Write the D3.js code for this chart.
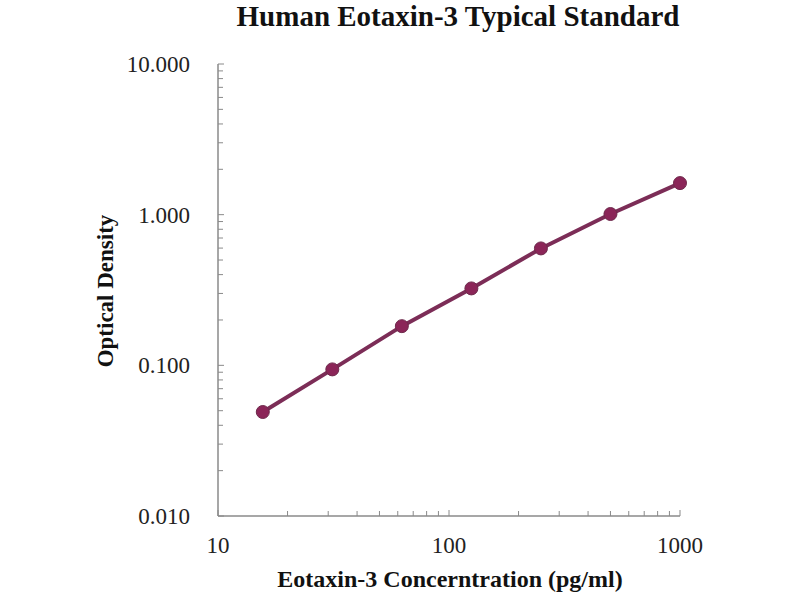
<!DOCTYPE html>
<html><head><meta charset="utf-8">
<script src="https://cdn.jsdelivr.net/npm/d3@7"></script>
<style>body{margin:0;background:#fff}</style>
</head><body>
<svg id="c" width="800" height="600"></svg>
<script>
const concentrations = [15.625, 31.25, 62.5, 125, 250, 500, 1000];
const opticalDensity = [0.049, 0.094, 0.182, 0.324, 0.597, 1.01, 1.62];
const xTickValues = [10, 100, 1000];
const yTickValues = [0.01, 0.1, 1, 10];
const titleText = "Human Eotaxin-3 Typical Standard";
const xTitle = "Eotaxin-3 Concerntration (pg/ml)";
const yTitle = "Optical Density";

const svg = d3.select("#c");
const x = d3.scaleLog().domain([10, 1000]).range([218, 680]);
const y = d3.scaleLog().domain([0.01, 10]).range([516, 64]);
const axisColor = "#8a8a8a";
const font = "'Liberation Serif', 'Times New Roman', serif";

const minorX = [], minorY = [];
for (let d = 10; d < 1000; d *= 10) for (let k = 2; k <= 9; k++) minorX.push(d * k);
for (let d = 0.01; d < 10; d *= 10) for (let k = 2; k <= 9; k++) minorY.push(+(d * k).toPrecision(3));

const g = svg.append("g");
g.selectAll(".mx").data(minorX).join("line")
  .attr("x1", d => x(d)).attr("x2", d => x(d))
  .attr("y1", y(0.01)).attr("y2", y(0.01) - 5)
  .attr("stroke", axisColor).attr("stroke-width", 1);
g.selectAll(".Mx").data(xTickValues).join("line")
  .attr("x1", d => x(d)).attr("x2", d => x(d))
  .attr("y1", y(0.01)).attr("y2", y(0.01) - 6)
  .attr("stroke", axisColor).attr("stroke-width", 1);
g.selectAll(".my").data(minorY).join("line")
  .attr("x1", x(10)).attr("x2", x(10) + 5)
  .attr("y1", d => y(d)).attr("y2", d => y(d))
  .attr("stroke", axisColor).attr("stroke-width", 1);
g.selectAll(".My").data(yTickValues).join("line")
  .attr("x1", x(10)).attr("x2", x(10) + 6)
  .attr("y1", d => y(d)).attr("y2", d => y(d))
  .attr("stroke", axisColor).attr("stroke-width", 1);

g.append("line").attr("x1", x(10)).attr("x2", x(1000)).attr("y1", y(0.01)).attr("y2", y(0.01))
  .attr("stroke", axisColor).attr("stroke-width", 1.5);
g.append("line").attr("x1", x(10)).attr("x2", x(10)).attr("y1", y(0.01)).attr("y2", y(10))
  .attr("stroke", axisColor).attr("stroke-width", 1.5);

g.selectAll(".xl").data(xTickValues).join("text")
  .attr("x", d => x(d)).attr("y", y(0.01) + 37)
  .attr("text-anchor", "middle").attr("font-family", font).attr("font-size", 23)
  .attr("fill", "#222").text(d => d);
g.selectAll(".yl").data(yTickValues).join("text")
  .attr("x", x(10) - 28).attr("y", d => y(d) + 8)
  .attr("text-anchor", "end").attr("font-family", font).attr("font-size", 23)
  .attr("fill", "#222").text(d => d3.format(".3f")(d));

const pts = concentrations.map((c, i) => [c, opticalDensity[i]]);
svg.append("path").datum(pts)
  .attr("d", d3.line().x(d => x(d[0])).y(d => y(d[1])))
  .attr("fill", "none").attr("stroke", "#7c2d57").attr("stroke-width", 4);
svg.selectAll(".pt").data(pts).join("circle")
  .attr("cx", d => x(d[0])).attr("cy", d => y(d[1])).attr("r", 6.5)
  .attr("fill", "#8b2558").attr("stroke", "#6e2a4c").attr("stroke-width", 1);

svg.append("text").attr("x", 458).attr("y", 26).attr("text-anchor", "middle")
  .attr("font-family", font).attr("font-weight", "bold").attr("font-size", 29)
  .attr("fill", "#111").text(titleText);
svg.append("text").attr("x", 450).attr("y", 587).attr("text-anchor", "middle")
  .attr("font-family", font).attr("font-weight", "bold").attr("font-size", 24)
  .attr("fill", "#111").text(xTitle);
svg.append("text").attr("transform", "translate(113,291) rotate(-90)").attr("text-anchor", "middle")
  .attr("font-family", font).attr("font-weight", "bold").attr("font-size", 23)
  .attr("fill", "#111").text(yTitle);
</script>
</body></html>
